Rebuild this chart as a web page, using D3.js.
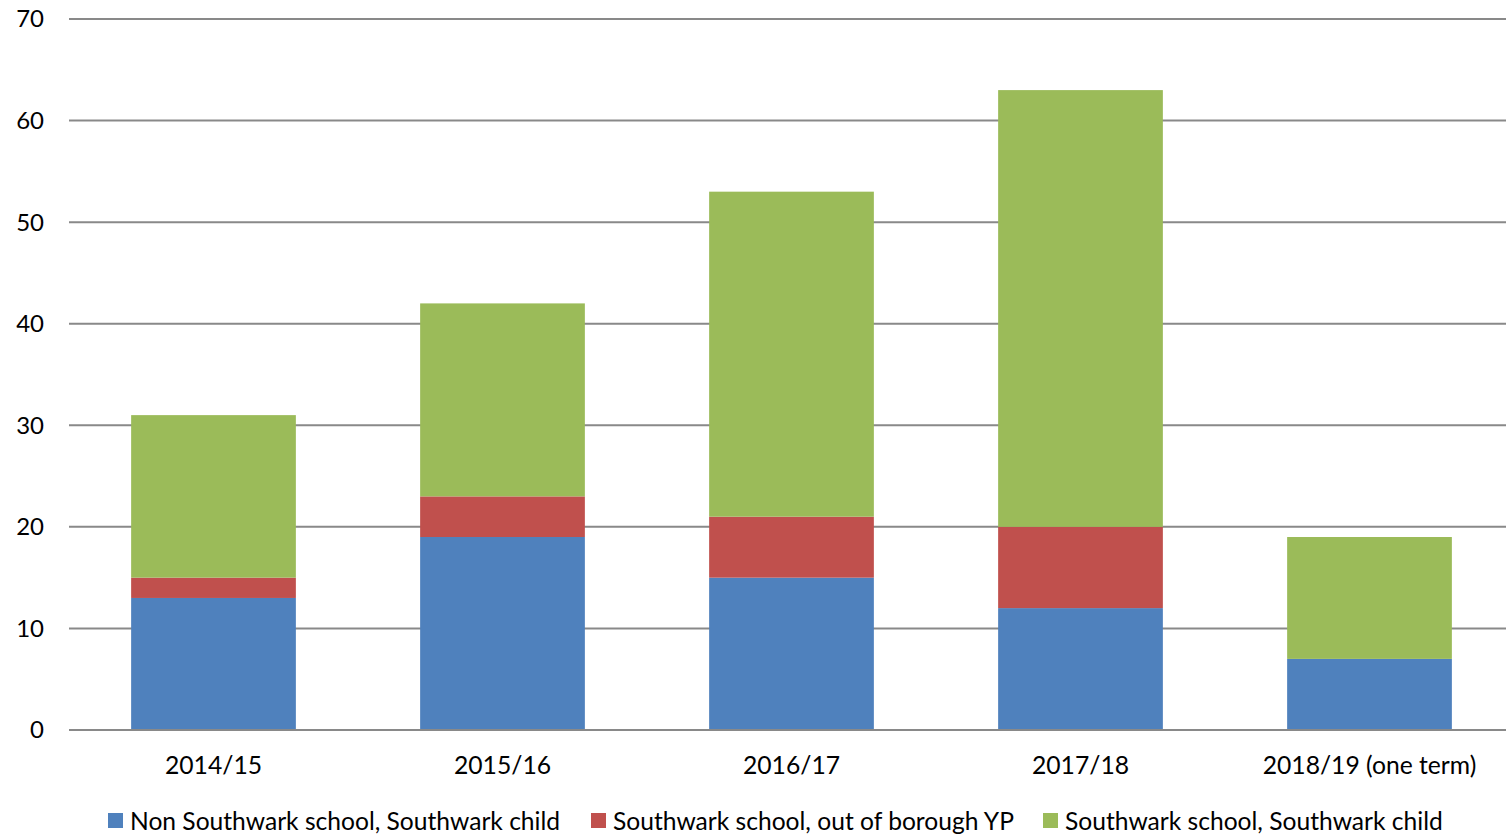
<!DOCTYPE html>
<html>
<head>
<meta charset="utf-8">
<script src="https://cdn.jsdelivr.net/npm/d3@7"></script>
<style>
  body { margin: 0; background: #fff; }
  svg { display: block; }
  text { font-family: Lato, "Open Sans", sans-serif; fill: #000; }
</style>
</head>
<body>
<div id="chart"></div>
<script>
var categories = ["2014/15", "2015/16", "2016/17", "2017/18", "2018/19 (one term)"];
var seriesNames = ["Non Southwark school, Southwark child", "Southwark school, out of borough YP", "Southwark school, Southwark child"];
var nonSouthwarkSchool = [13, 19, 15, 12, 7];
var outOfBorough = [2, 4, 6, 8, 0];
var southwarkChild = [16, 19, 32, 43, 12];
var yTicks = [0, 10, 20, 30, 40, 50, 60, 70];
var colors = ["#4F81BD", "#C0504D", "#9BBB59"];

var W = 1506, H = 836;
var margin = {top: 19, left: 69, bottom: 106};
var plotH = H - margin.top - margin.bottom;
var bandStep = 289;

var svg = d3.select("#chart").append("svg")
    .attr("width", W)
    .attr("height", H);

var x = d3.scaleBand()
    .domain(categories)
    .range([margin.left, margin.left + bandStep * categories.length])
    .paddingInner(0.43)
    .paddingOuter(0.215);

var y = d3.scaleLinear()
    .domain([0, 70])
    .range([margin.top + plotH, margin.top]);

// gridlines
svg.append("g").selectAll("line")
    .data(yTicks)
    .enter().append("line")
    .attr("x1", margin.left)
    .attr("x2", W)
    .attr("y1", d => y(d))
    .attr("y2", d => y(d))
    .style("stroke", "#898989")
    .style("stroke-width", 2);

svg.append("g").selectAll("text")
    .data(yTicks)
    .enter().append("text")
    .attr("x", 44)
    .attr("y", d => y(d))
    .attr("dy", "0.35em")
    .style("text-anchor", "end")
    .style("font-size", "24px")
    .text(d => d);

var table = categories.map((c, i) => ({
    cat: c,
    s0: nonSouthwarkSchool[i],
    s1: outOfBorough[i],
    s2: southwarkChild[i]
}));
var stack = d3.stack().keys(["s0", "s1", "s2"])(table);

svg.append("g").selectAll("g")
    .data(stack)
    .enter().append("g")
    .style("fill", (d, i) => colors[i])
    .selectAll("rect")
    .data(d => d)
    .enter().append("rect")
    .attr("x", d => x(d.data.cat))
    .attr("width", x.bandwidth())
    .attr("y", d => y(d[1]))
    .attr("height", d => y(d[0]) - y(d[1]));

// redraw zero axis line on top
svg.append("line")
    .attr("x1", margin.left)
    .attr("x2", W)
    .attr("y1", y(0))
    .attr("y2", y(0))
    .style("stroke", "#898989")
    .style("stroke-width", 2);

svg.append("g").selectAll("text")
    .data(categories)
    .enter().append("text")
    .attr("x", d => x(d) + x.bandwidth() / 2)
    .attr("y", 765)
    .attr("dy", "0.35em")
    .style("text-anchor", "middle")
    .style("font-size", "24.7px")
    .text(d => d);

// legend
var legendX = [108, 591, 1043];
var legend = svg.append("g").selectAll("g")
    .data(seriesNames)
    .enter().append("g")
    .attr("transform", (d, i) => "translate(" + legendX[i] + ",813)");

legend.append("rect")
    .attr("width", 15)
    .attr("height", 15)
    .style("fill", (d, i) => colors[i]);

legend.append("text")
    .attr("x", 22)
    .attr("y", 8)
    .attr("dy", "0.35em")
    .style("font-size", "24.6px")
    .text(d => d);
</script>
</body>
</html>
